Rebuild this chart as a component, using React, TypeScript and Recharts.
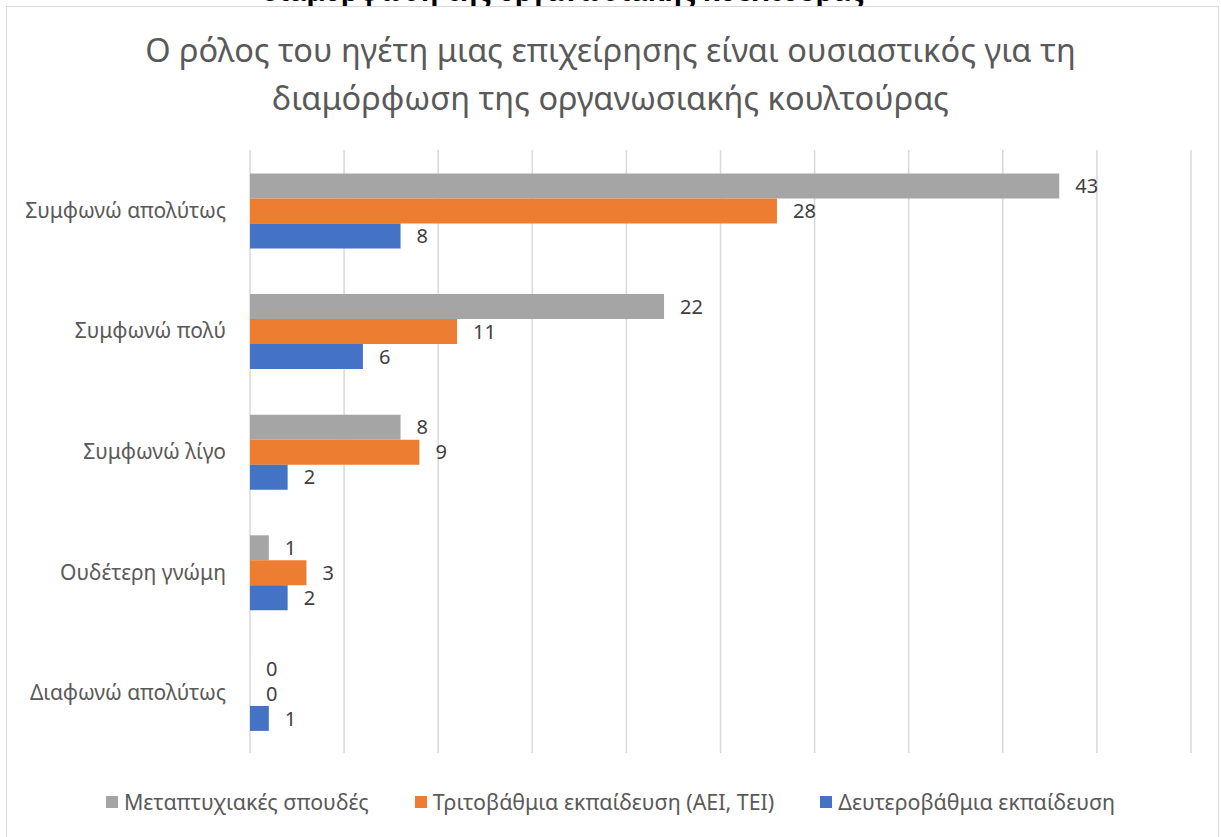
import { BarChart, Bar, XAxis, YAxis, CartesianGrid, LabelList } from "recharts";

const categories = [
  "Συμφωνώ απολύτως",
  "Συμφωνώ πολύ",
  "Συμφωνώ λίγο",
  "Ουδέτερη γνώμη",
  "Διαφωνώ απολύτως",
];
const postgrad = [43, 22, 8, 1, 0];
const tertiary = [28, 11, 9, 3, 0];
const secondary = [8, 6, 2, 2, 1];
const xTicks = [0, 5, 10, 15, 20, 25, 30, 35, 40, 45, 50];

const series = [
  { key: "postgrad", name: "Μεταπτυχιακές σπουδές", color: "#A5A5A5" },
  { key: "tertiary", name: "Τριτοβάθμια εκπαίδευση (ΑΕΙ, ΤΕΙ)", color: "#ED7D31" },
  { key: "secondary", name: "Δευτεροβάθμια εκπαίδευση", color: "#4472C4" },
];

const data = categories.map((name, i) => ({
  name,
  postgrad: postgrad[i],
  tertiary: tertiary[i],
  secondary: secondary[i],
}));

const FONT = "'Noto Sans', sans-serif";

const App = () => {
  return (
    <div
      style={{
        position: "absolute",
        left: 0,
        top: 0,
        width: 1221,
        height: 837,
        overflow: "hidden",
        background: "#fff",
        fontFamily: FONT,
      }}
    >
      {/* clipped heading from the page above */}
      <div
        style={{
          position: "absolute",
          top: -28,
          left: 262,
          width: 602,
          textAlign: "center",
          fontSize: 27,
          fontWeight: 700,
          color: "#000",
          whiteSpace: "nowrap",
        }}
      >
        διαμόρφωση της οργανωσιακής κουλτούρας
      </div>

      <div
        style={{
          position: "absolute",
          left: 6,
          top: 6,
          width: 1211,
          height: 840,
          border: "1.5px solid #d9d9d9",
        }}
      />

      <div
        style={{
          position: "absolute",
          top: 26,
          left: 0,
          width: 1221,
          textAlign: "center",
          fontSize: 32.5,
          lineHeight: "48px",
          color: "#595959",
        }}
      >
        Ο ρόλος του ηγέτη μιας επιχείρησης είναι ουσιαστικός για τη
        <br />
        διαμόρφωση της οργανωσιακής κουλτούρας
      </div>

      <div style={{ position: "absolute", left: 0, top: 0 }}>
        <BarChart
          layout="vertical"
          width={1221}
          height={837}
          data={data}
          margin={{ top: 150, right: 30, bottom: 84, left: 0 }}
          barCategoryGap="19.5%"
          barGap={0}
        >
          <CartesianGrid horizontal={false} stroke="#d9d9d9" strokeWidth={1.5} />
          <XAxis type="number" domain={[0, 50]} ticks={xTicks} hide />
          <YAxis
            type="category"
            dataKey="name"
            width={250}
            axisLine={false}
            tickLine={false}
            tickSize={0}
            tickMargin={24}
            tick={{ fill: "#595959", fontSize: 21, fontFamily: FONT }}
          />
          {series.map((s) => (
            <Bar
              key={s.key}
              dataKey={s.key}
              name={s.name}
              fill={s.color}
              minPointSize={0.01}
              isAnimationActive={false}
            >
              <LabelList
                dataKey={s.key}
                position="right"
                offset={16}
                fill="#404040"
                fontSize={20}
                fontFamily={FONT}
              />
            </Bar>
          ))}
        </BarChart>
      </div>

      <div
        style={{
          position: "absolute",
          top: 787,
          left: 0,
          width: 1221,
          display: "flex",
          justifyContent: "center",
          alignItems: "center",
          gap: 46,
          fontSize: 21.4,
          color: "#595959",
        }}
      >
        {series.map((s) => (
          <div key={s.key} style={{ display: "flex", alignItems: "center", gap: 6 }}>
            <span style={{ width: 12, height: 12, background: s.color, display: "inline-block" }} />
            <span>{s.name}</span>
          </div>
        ))}
      </div>
    </div>
  );
};

export default App;
